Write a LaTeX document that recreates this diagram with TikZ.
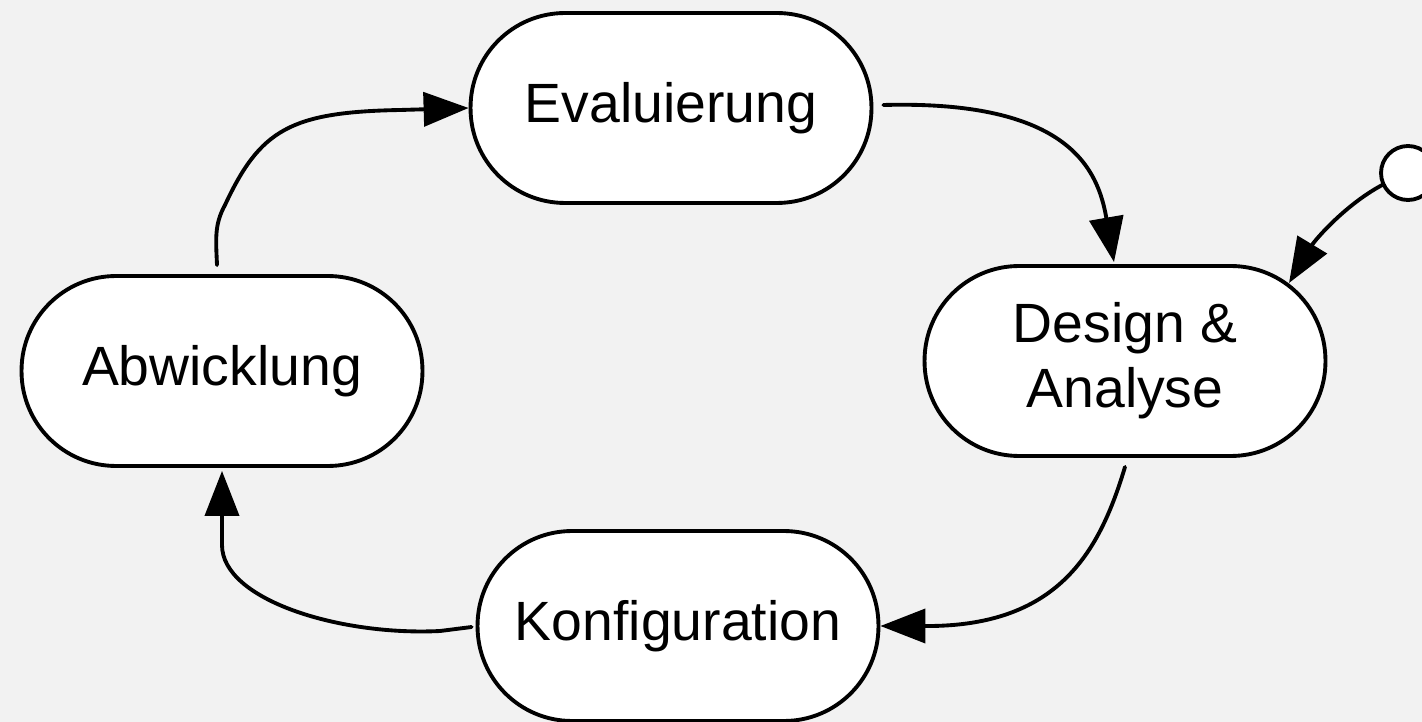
\documentclass[tikz,border=0pt]{standalone}
\usepackage{fontspec}
\setmainfont{Liberation Sans}
\usetikzlibrary{arrows.meta,calc}
\definecolor{bgc}{HTML}{F2F2F2}
\tikzset{
  stadium/.style={draw=black, fill=white, line width=2.2pt, rectangle,
    rounded corners=1.89cm, minimum width=8.02cm, minimum height=3.8cm,
    inner sep=0pt, align=center, font=\fontsize{31.5}{37}\selectfont},
  conn/.style={draw=black, line width=2.2pt, line cap=round,
    -{Triangle[length=0.9cm,width=0.68cm]}},
}
\begin{document}
\begin{tikzpicture}[x=0.02cm,y=-0.02cm]
\fill[bgc] (0,0) rectangle (1422,722);
\useasboundingbox (0,0) rectangle (1422,722);
\node[stadium] (E) at (671,108) {Evaluierung};
\node[stadium] (D) at (1125,361) {Design \&\\Analyse};
\node[stadium] (A) at (222,371) {Abwicklung};
\node[stadium] (K) at (678,626) {Konfiguration};
\node[draw=black, fill=white, line width=2.2pt, circle, minimum size=1.08cm, inner sep=0pt] (S) at (1408,173) {};
% Abwicklung -> Evaluierung
\draw[conn] ($(A.north)+(-5,-9)$) .. controls (216,240) and (214,225) .. (225,205)
  .. controls (260,130) and (290,112) .. (400,110) -- (E.west);
% Evaluierung -> Design
\draw[conn] ($(E.east)+(10,-3)$) .. controls (1070,100) and (1098,170) .. ($(D.north)+(-11,-2)$);
% Start -> Design
\draw[conn] (S.205) .. controls (1345,205) and (1315,240) .. ($(D.center)+(164,-78)$);
% Design -> Konfiguration
\draw[conn] ($(D.south)+(0,9)$) .. controls (1100,550) and (1060,625) .. (930,626) -- (K.east);
% Konfiguration -> Abwicklung
\draw[conn] ($(K.west)+(-4,1)$) -- (440,631) .. controls (340,636) and (222,600) .. (222,545) -- ($(A.south)+(0,3)$);
\end{tikzpicture}
\end{document}
